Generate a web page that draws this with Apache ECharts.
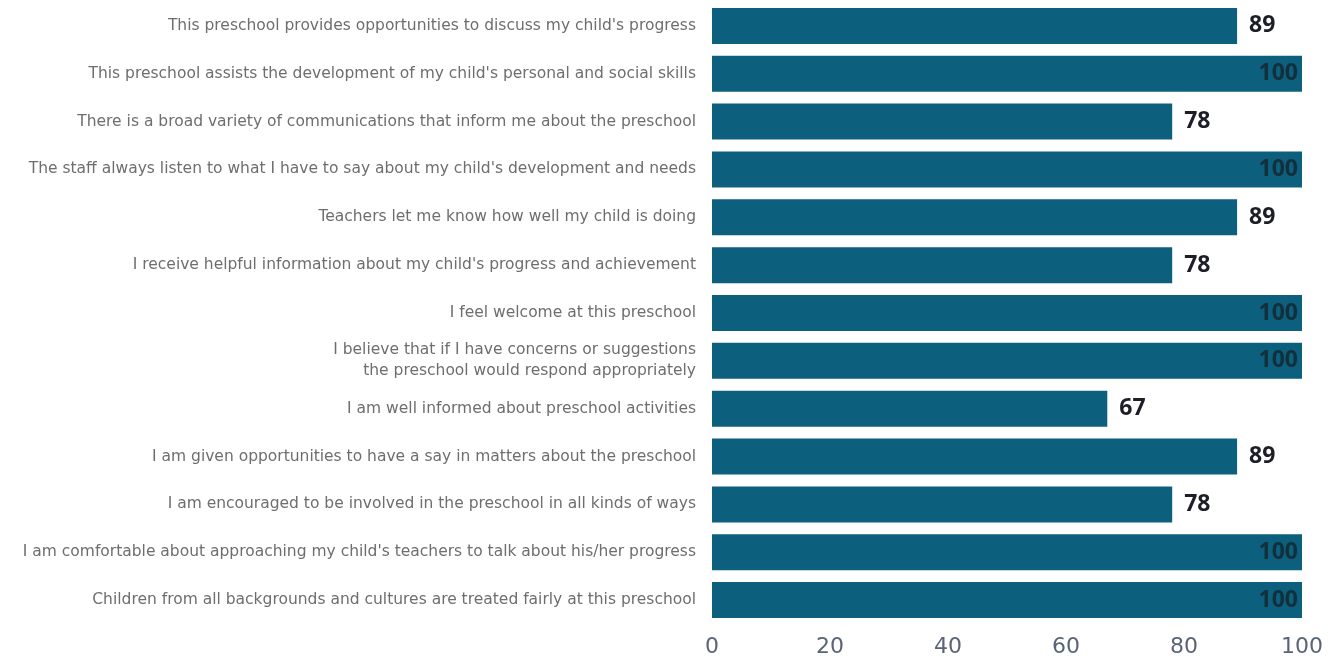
<!DOCTYPE html>
<html>
<head>
<meta charset="utf-8">
<script src="https://cdn.jsdelivr.net/npm/echarts@6/dist/echarts.min.js"></script>
<style>html,body{margin:0;padding:0;background:#fff}#c{width:1343px;height:665px}</style>
</head>
<body>
<div id="c"></div>
<script>
const categories = [
  "This preschool provides opportunities to discuss my child's progress",
  "This preschool assists the development of my child's personal and social skills",
  "There is a broad variety of communications that inform me about the preschool",
  "The staff always listen to what I have to say about my child's development and needs",
  "Teachers let me know how well my child is doing",
  "I receive helpful information about my child's progress and achievement",
  "I feel welcome at this preschool",
  "I believe that if I have concerns or suggestions\nthe preschool would respond appropriately",
  "I am well informed about preschool activities",
  "I am given opportunities to have a say in matters about the preschool",
  "I am encouraged to be involved in the preschool in all kinds of ways",
  "I am comfortable about approaching my child's teachers to talk about his/her progress",
  "Children from all backgrounds and cultures are treated fairly at this preschool"
];
const values = [89, 100, 78, 100, 89, 78, 100, 100, 67, 89, 78, 100, 100];
const xTicks = [0, 20, 40, 60, 80, 100];

const chart = echarts.init(document.getElementById('c'));
chart.setOption({
  animation: false,
  grid: { left: 712, right: 41, top: 2, bottom: 41 },
  xAxis: {
    type: 'value', min: 0, max: 100, interval: 20,
    axisLine: { show: false }, axisTick: { show: false }, splitLine: { show: false },
    axisLabel: { color: '#5a6478', fontSize: 22, fontFamily: 'DejaVu Sans', margin: 12,
      formatter: v => xTicks.includes(v) ? String(v) : '' }
  },
  yAxis: {
    type: 'category', data: categories, inverse: true,
    axisLine: { show: false }, axisTick: { show: false },
    axisLabel: { color: '#6e6e6e', fontSize: 15.5, fontFamily: 'DejaVu Sans', margin: 16, lineHeight: 21, align: 'right' }
  },
  series: [{
    type: 'bar', barWidth: 36,
    data: values.map(v => ({
      value: v,
      label: v >= 100
        ? { show: true, position: 'insideRight', color: '#12303c', distance: 4 }
        : { show: true, position: 'right', color: '#1e1e28', distance: 12 }
    })),
    itemStyle: { color: '#0d5f7e' },
    label: { fontSize: 23, fontWeight: 'bold', fontFamily: 'Open Sans' }
  }]
});
</script>
</body>
</html>
